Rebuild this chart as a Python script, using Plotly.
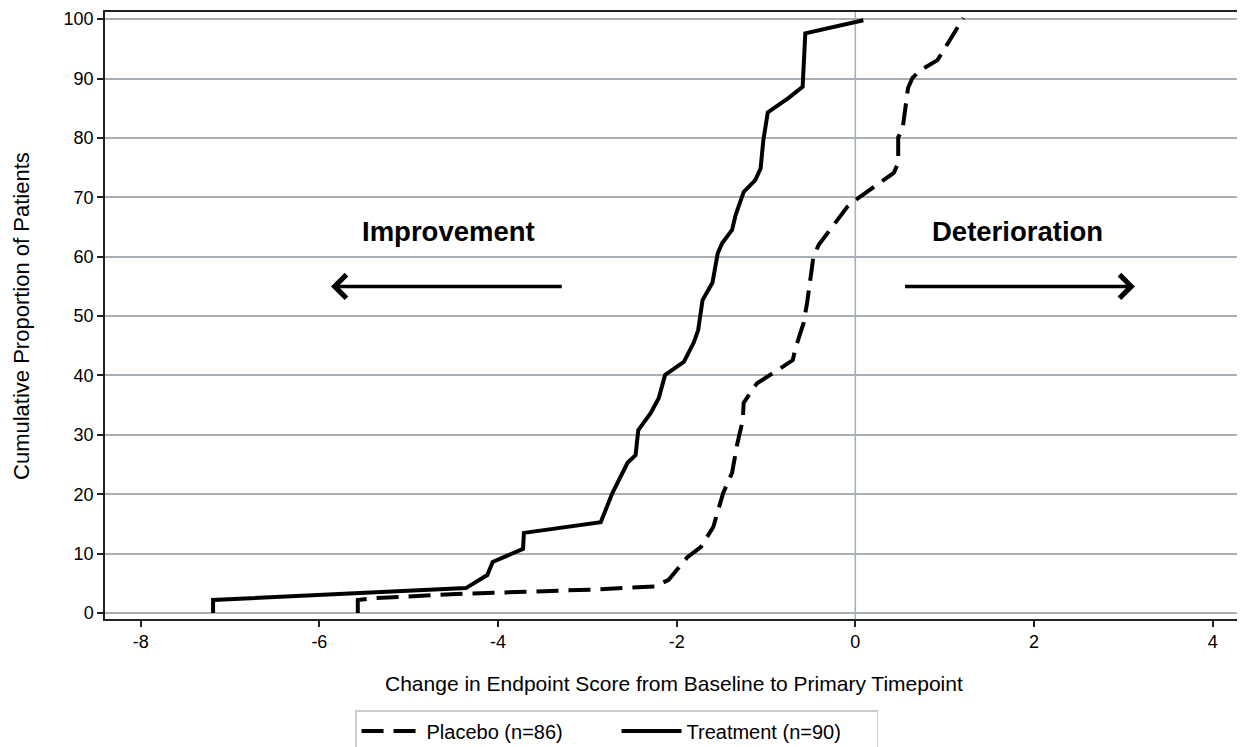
import plotly.graph_objects as go

# Treatment (solid) empirical cumulative curve
trt_x = [-7.19, -7.19, -4.36, -4.12, -4.06, -3.72, -3.71, -2.85, -2.72, -2.55, -2.46, -2.43,
         -2.29, -2.20, -2.13, -1.92, -1.81, -1.76, -1.71, -1.60, -1.54, -1.49, -1.38, -1.34,
         -1.25, -1.12, -1.06, -1.03, -0.98, -0.75, -0.59, -0.56, 0.09]
trt_y = [0, 2.2, 4.2, 6.4, 8.6, 10.8, 13.5, 15.3, 20.2, 25.3, 26.6, 30.8,
         33.7, 36.2, 40.1, 42.3, 45.5, 47.6, 52.7, 55.6, 60.6, 62.3, 64.5, 67.0,
         70.9, 72.9, 74.9, 79.6, 84.3, 86.7, 88.6, 97.6, 99.8]

# Placebo (dashed) empirical cumulative curve
pbo_x = [-5.57, -5.57, -5.39, -4.47, -2.85, -2.24, -2.09, -1.88, -1.73, -1.59, -1.48, -1.38,
         -1.32, -1.26, -1.25, -1.10, -0.84, -0.70, -0.67, -0.58, -0.54, -0.47, -0.41, -0.09,
         0.00, 0.43, 0.48, 0.48, 0.53, 0.59, 0.64, 0.73, 0.92, 1.21]
pbo_y = [0, 2.2, 2.5, 3.2, 4.0, 4.5, 5.6, 9.4, 11.1, 14.5, 20.2, 23.6,
         28.6, 32.5, 35.4, 38.7, 41.2, 42.6, 44.6, 48.8, 52.2, 59.9, 62.0, 68.4,
         69.5, 74.1, 75.8, 80.1, 81.6, 88.4, 90.1, 91.4, 93.1, 100.2]

x_ticks = [-8, -6, -4, -2, 0, 2, 4]
x_tick_labels = ["-8", "-6", "-4", "-2", "0", "2", "4"]
y_ticks = [0, 10, 20, 30, 40, 50, 60, 70, 80, 90, 100]
y_tick_labels = ["0", "10", "20", "30", "40", "50", "60", "70", "80", "90", "100"]

FONT = "Liberation Sans, Arial, sans-serif"
GRID = "#A9B0B5"

fig = go.Figure()
fig.add_trace(go.Scatter(x=pbo_x, y=pbo_y, mode="lines", name="Placebo (n=86)",
                         line=dict(color="black", width=4, dash="22px,10px")))
fig.add_trace(go.Scatter(x=trt_x, y=trt_y, mode="lines", name="Treatment (n=90)",
                         line=dict(color="black", width=4)))

# reference line at 0
fig.add_shape(type="line", xref="x", yref="paper", x0=0, x1=0, y0=0, y1=1,
              line=dict(color=GRID, width=1.5), layer="below")
# right frame edge
fig.add_shape(type="line", xref="paper", yref="paper", x0=1, x1=1, y0=0, y1=1,
              line=dict(color="#C8CDD0", width=1.5))

# annotations
fig.add_annotation(x=-4.56, y=64.2, text="<b>Improvement</b>", showarrow=False,
                   font=dict(family=FONT, size=27.5, color="black"))
fig.add_annotation(x=1.81, y=64.2, text="<b>Deterioration</b>", showarrow=False,
                   font=dict(family=FONT, size=27.5, color="black"))
fig.add_annotation(x=-5.87, y=55, ax=-3.27, ay=55, xref="x", yref="y", axref="x", ayref="y",
                   text="", showarrow=True, arrowhead=4, arrowsize=1.3, arrowwidth=3.5,
                   arrowcolor="black")
fig.add_annotation(x=3.13, y=55, ax=0.54, ay=55, xref="x", yref="y", axref="x", ayref="y",
                   text="", showarrow=True, arrowhead=4, arrowsize=1.3, arrowwidth=3.5,
                   arrowcolor="black")

# axis titles
fig.add_annotation(xref="paper", yref="paper", x=0.5, y=-0.107, yanchor="middle",
                   text="Change in Endpoint Score from Baseline to Primary Timepoint",
                   showarrow=False, font=dict(family=FONT, size=21, color="black"))
fig.add_annotation(xref="paper", yref="paper", x=-0.0734, y=0.5, xanchor="center",
                   text="Cumulative Proportion of Patients", textangle=-90,
                   showarrow=False, font=dict(family=FONT, size=22, color="black"))

# page body has an 8px margin, so the figure is 8px smaller and offset accordingly
fig.update_layout(
    width=1237, height=739,
    margin=dict(l=97, r=2, t=4, b=128, autoexpand=False),
    plot_bgcolor="white", paper_bgcolor="white",
    font=dict(family=FONT, size=18, color="black"),
    showlegend=True,
    legend=dict(orientation="h", x=0.2197, xanchor="left", y=-0.15, yanchor="top",
                bordercolor="#C8CDD0", borderwidth=1.5, font=dict(size=20, family=FONT),
                itemwidth=60, entrywidth=185, entrywidthmode="pixels"),
    xaxis=dict(range=[-8.4, 4.34], tickvals=x_ticks, ticktext=x_tick_labels,
               showgrid=False, zeroline=False,
               showline=True, linecolor="#222", linewidth=1.5, mirror=True,
               ticks="outside", ticklen=6, tickcolor="#222", tickwidth=1.5,
               tickfont=dict(size=18), automargin=False),
    yaxis=dict(range=[-1, 101.2], tickvals=y_ticks, ticktext=y_tick_labels,
               showgrid=True, gridcolor=GRID, gridwidth=1.5,
               zeroline=False, showline=True, linecolor="#222", linewidth=1.5,
               ticks="outside", ticklen=6, tickcolor="#222", tickwidth=1.5,
               tickfont=dict(size=18), automargin=False),
)

fig.write_html("out.html")
